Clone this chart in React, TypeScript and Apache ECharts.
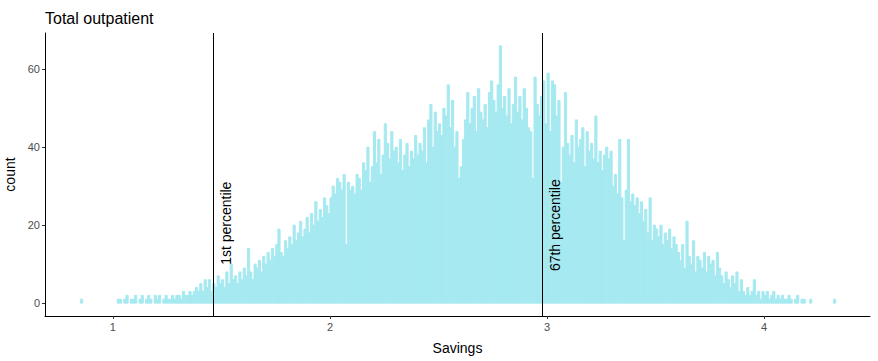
import React, { useEffect, useRef } from "react";
import * as echarts from "echarts";

// Histogram of Savings, bin width 0.01 starting at 0.85
const binStart = 0.85;
const binWidth = 0.01;
const counts085to100 = [1, 0, 0, 0, 0, 0, 0, 0, 0, 0, 0, 0, 0, 0, 0];
const counts100to150 = [
  0, 0, 1, 1, 0, 1, 2, 0, 1, 1,
  2, 0, 1, 2, 0, 1, 2, 1, 0, 2,
  1, 2, 0, 1, 2, 1, 1, 2, 1, 2,
  2, 1, 3, 2, 2, 3, 2, 3, 4, 3,
  5, 3, 6, 4, 6, 3, 5, 4, 7, 5,
];
const counts150to200 = [
  6, 4, 8, 5, 10, 6, 7, 5, 8, 6,
  9, 7, 14, 8, 6, 10, 9, 11, 8, 12,
  10, 13, 11, 14, 12, 15, 19, 13, 12, 16,
  14, 17, 15, 20, 16, 18, 21, 17, 19, 22,
  18, 23, 20, 26, 21, 24, 22, 27, 25, 23,
];
const counts200to250 = [
  27, 30, 28, 32, 31, 29, 33, 15, 31, 29,
  30, 28, 33, 32, 29, 36, 34, 40, 31, 35,
  44, 36, 42, 33, 38, 46, 41, 37, 44, 39,
  40, 36, 42, 34, 38, 41, 35, 39, 37, 43,
  38, 41, 39, 45, 36, 47, 51, 40, 49, 44,
];
const counts250to300 = [
  46, 43, 50, 48, 56, 45, 52, 40, 44, 32,
  35, 42, 47, 54, 46, 50, 53, 44, 55, 49,
  47, 51, 45, 54, 57, 52, 49, 56, 66, 50,
  53, 48, 55, 46, 51, 58, 49, 53, 47, 55,
  50, 45, 44, 32, 58, 51, 48, 53, 57, 46,
];
const counts300to350 = [
  59, 44, 57, 56, 48, 52, 31, 40, 54, 41,
  38, 43, 36, 47, 40, 42, 45, 35, 44, 39,
  41, 37, 48, 36, 39, 34, 38, 40, 37, 39,
  30, 33, 28, 42, 27, 16, 29, 42, 26, 28,
  25, 27, 23, 26, 21, 24, 18, 27, 16, 20,
];
const counts350to400 = [
  19, 17, 20, 15, 18, 16, 19, 14, 17, 15,
  13, 11, 15, 9, 21, 12, 10, 16, 8, 12,
  11, 9, 13, 8, 12, 10, 11, 7, 13, 9,
  7, 5, 8, 6, 4, 7, 5, 8, 3, 6,
  3, 2, 4, 2, 3, 6, 2, 3, 1, 3,
];
const counts400to433 = [
  2, 3, 1, 2, 3, 1, 2, 1, 2, 1,
  1, 2, 1, 0, 1, 2, 0, 1, 1, 0,
  0, 1, 0, 0, 0, 0, 0, 0, 0, 0,
  0, 0, 1,
];

const percentileValues = [1.461, 2.977];
const percentileLabels = ["1st percentile", "67th percentile"];
const labelCountPos = [20.5, 20];

const yTicks = [0, 20, 40, 60];
const xTicks = [1, 2, 3, 4];

const FONT = "'Liberation Sans', Arial, sans-serif";
const BAR = "#a6e9f0";

export default function App() {
  const ref = useRef<HTMLDivElement>(null);

  useEffect(() => {
    if (!ref.current) return;
    const chart = echarts.init(ref.current, undefined, { renderer: "svg" });
    const allCounts = [
      ...counts085to100,
      ...counts100to150,
      ...counts150to200,
      ...counts200to250,
      ...counts250to300,
      ...counts300to350,
      ...counts350to400,
      ...counts400to433,
    ];
    const bins: number[][] = [];
    allCounts.forEach((c, i) => {
      if (c > 0) {
        const s = binStart + i * binWidth;
        bins.push([s, s + binWidth, c]);
      }
    });
    const labelData = percentileValues.map((v, i) => [v, labelCountPos[i], percentileLabels[i]]);

    chart.setOption({
      animation: false,
      backgroundColor: "#ffffff",
      title: {
        text: "Total outpatient",
        left: 40,
        top: 5,
        textStyle: { fontFamily: FONT, fontSize: 16, fontWeight: "normal", color: "#000" },
      },
      grid: {
        left: 45,
        right: 8,
        top: 33,
        bottom: 45,
        containLabel: false,
        outerBoundsMode: "none",
      },
      xAxis: {
        type: "value",
        min: 0.687,
        max: 4.488,
        name: "Savings",
        nameLocation: "middle",
        nameGap: 25,
        nameTextStyle: { fontFamily: FONT, fontSize: 14, color: "#000" },
        axisLine: { show: true, onZero: false, lineStyle: { color: "#000", width: 1 } },
        axisTick: { show: true, length: 3, customValues: xTicks, lineStyle: { color: "#333" } },
        axisLabel: {
          customValues: xTicks,
          fontFamily: FONT,
          fontSize: 11,
          color: "#4d4d4d",
          margin: 5,
        },
        splitLine: { show: false },
      },
      yAxis: {
        type: "value",
        min: -3.3,
        max: 69.3,
        name: "count",
        nameLocation: "middle",
        nameGap: 25,
        nameTextStyle: { fontFamily: FONT, fontSize: 14, color: "#000" },
        axisLine: { show: true, onZero: false, lineStyle: { color: "#000", width: 1 } },
        axisTick: { show: true, length: 3, customValues: yTicks, lineStyle: { color: "#333" } },
        axisLabel: {
          customValues: yTicks,
          fontFamily: FONT,
          fontSize: 11,
          color: "#4d4d4d",
          margin: 5,
        },
        splitLine: { show: false },
      },
      series: [
        {
          type: "custom",
          data: bins,
          encode: { x: [0, 1], y: 2 },
          renderItem: (params: any, api: any) => {
            const p0 = api.coord([api.value(0), 0]);
            const p1 = api.coord([api.value(1), api.value(2)]);
            return {
              type: "rect",
              shape: { x: p0[0], y: p1[1], width: p1[0] - p0[0], height: p0[1] - p1[1] },
              style: { fill: BAR, stroke: BAR, lineWidth: 1 },
            };
          },
          markLine: {
            silent: true,
            symbol: ["none", "none"],
            label: { show: false },
            lineStyle: { color: "#000", width: 1, type: "solid" },
            data: percentileValues.map((v) => ({ xAxis: v })),
          },
        },
        {
          type: "custom",
          data: labelData,
          encode: { x: 0, y: 1 },
          renderItem: (params: any, api: any) => {
            const p = api.coord([api.value(0), api.value(1)]);
            return {
              type: "text",
              x: p[0] + 13,
              y: p[1],
              rotation: Math.PI / 2,
              style: {
                text: labelData[params.dataIndex][2],
                fontFamily: FONT,
                fontSize: 14,
                fill: "#000",
                align: "center",
                verticalAlign: "middle",
              },
            };
          },
        },
      ],
    });
    return () => chart.dispose();
  }, []);

  return (
    <div
      ref={ref}
      style={{ position: "fixed", left: 0, top: 0, width: 878, height: 361, background: "#fff" }}
    />
  );
}
